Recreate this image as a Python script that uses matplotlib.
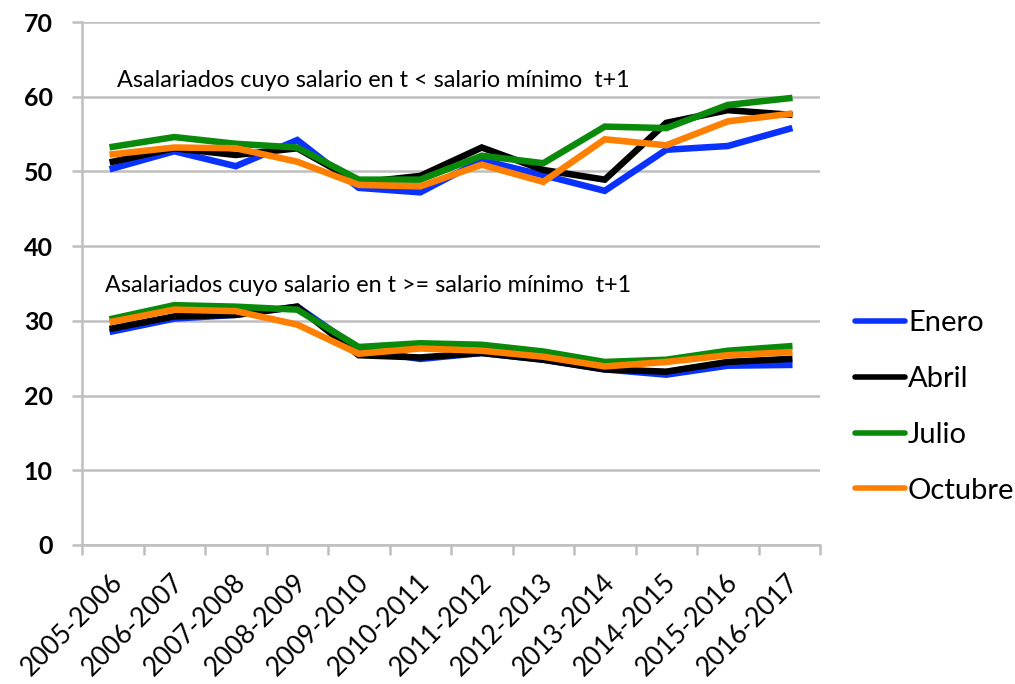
import matplotlib
matplotlib.use("Agg")
import matplotlib.pyplot as plt
from matplotlib.lines import Line2D
from matplotlib.transforms import ScaledTranslation

plt.rcParams['font.family'] = ['Lato', 'DejaVu Sans']

periods = ["2005-2006", "2006-2007", "2007-2008", "2008-2009", "2009-2010", "2010-2011",
           "2011-2012", "2012-2013", "2013-2014", "2014-2015", "2015-2016", "2016-2017"]

# Upper group: salario en t < salario mínimo t+1
enero_low = [50.4, 52.7, 50.7, 54.2, 47.8, 47.2, 51.5, 49.5, 47.4, 52.9, 53.4, 55.7]
abril_low = [51.3, 53.1, 52.2, 53.1, 48.5, 49.4, 53.2, 50.2, 48.9, 56.5, 58.2, 57.6]
julio_low = [53.3, 54.6, 53.7, 53.2, 48.9, 48.9, 52.1, 51.1, 56.0, 55.8, 58.9, 59.8]
octubre_low = [52.3, 53.2, 53.1, 51.3, 48.2, 48.0, 50.9, 48.6, 54.3, 53.5, 56.7, 57.7]

# Lower group: salario en t >= salario mínimo t+1
enero_high = [28.6, 30.3, 30.8, 31.9, 26.2, 24.9, 25.7, 24.8, 23.5, 22.8, 24.0, 24.1]
abril_high = [29.0, 30.6, 30.8, 31.9, 25.4, 25.1, 25.7, 24.8, 23.5, 23.2, 24.5, 24.9]
julio_high = [30.3, 32.1, 31.9, 31.5, 26.5, 27.0, 26.8, 25.9, 24.5, 24.8, 26.0, 26.6]
octubre_high = [29.9, 31.5, 31.3, 29.5, 25.6, 26.3, 26.0, 25.2, 23.9, 24.5, 25.4, 25.8]

series = [
    ("Enero", "#0A32FF", enero_low, enero_high),
    ("Abril", "#000000", abril_low, abril_high),
    ("Julio", "#0A8A0A", julio_low, julio_high),
    ("Octubre", "#FF7F00", octubre_low, octubre_high),
]

fig = plt.figure(figsize=(10.15, 6.84), dpi=100)
ax = fig.add_axes([82/1015, (684-545)/684, (820-82)/1015, (545-22)/684])

x = list(range(len(periods)))
for name, color, low, high in series:
    ax.plot(x, low, color=color, lw=4.7, solid_joinstyle='miter', zorder=3)
    ax.plot(x, high, color=color, lw=4.7, solid_joinstyle='miter', zorder=3)

ax.set_xlim(-0.5, len(periods) - 0.5)
ax.set_ylim(0, 70)
ax.set_yticks(range(0, 71, 10))
ax.yaxis.grid(True, color="#BFBFBF", lw=1.8)
ax.set_axisbelow(True)
for s in ["top", "right"]:
    ax.spines[s].set_visible(False)
for s in ["left", "bottom"]:
    ax.spines[s].set_color("#BFBFBF")
    ax.spines[s].set_linewidth(1.8)

ax.tick_params(axis='y', direction='out', length=7, width=1.8, color="#BFBFBF",
               labelsize=18, pad=14)
for lab in ax.get_yticklabels():
    lab.set_fontweight('bold')

ax.set_xticks(x)
ax.set_xticklabels(periods, rotation=45, ha='right', va='center', rotation_mode='anchor')
ax.tick_params(axis='x', which='major', length=0, labelsize=19, pad=24)
shift = ScaledTranslation(6/100, 0, fig.dpi_scale_trans)
for lab in ax.get_xticklabels():
    lab.set_transform(lab.get_transform() + shift)
ax.set_xticks([i - 0.5 for i in range(len(periods) + 1)], minor=True)
ax.tick_params(axis='x', which='minor', direction='out', length=7, width=1.8, color="#BFBFBF")

ax.text(0.069, 61.3, "Asalariados cuyo salario en t < salario mínimo  t+1", fontsize=16.8,
        va='baseline', ha='left')
ax.text(-0.126, 33.9, "Asalariados cuyo salario en t >= salario mínimo  t+1", fontsize=16.8,
        va='baseline', ha='left')

handles = [Line2D([0], [0], color=c, lw=4.0, solid_capstyle='round') for _, c, _, _ in series]
labels = [n for n, _, _, _ in series]
fig.legend(handles, labels, loc='center left', bbox_to_anchor=(855/1015, 1 - 407/684),
           frameon=False, fontsize=21, handlelength=1.72, handletextpad=0.1,
           labelspacing=1.02, borderpad=0, borderaxespad=0)

fig.savefig("out.png", dpi=100, facecolor='white')
